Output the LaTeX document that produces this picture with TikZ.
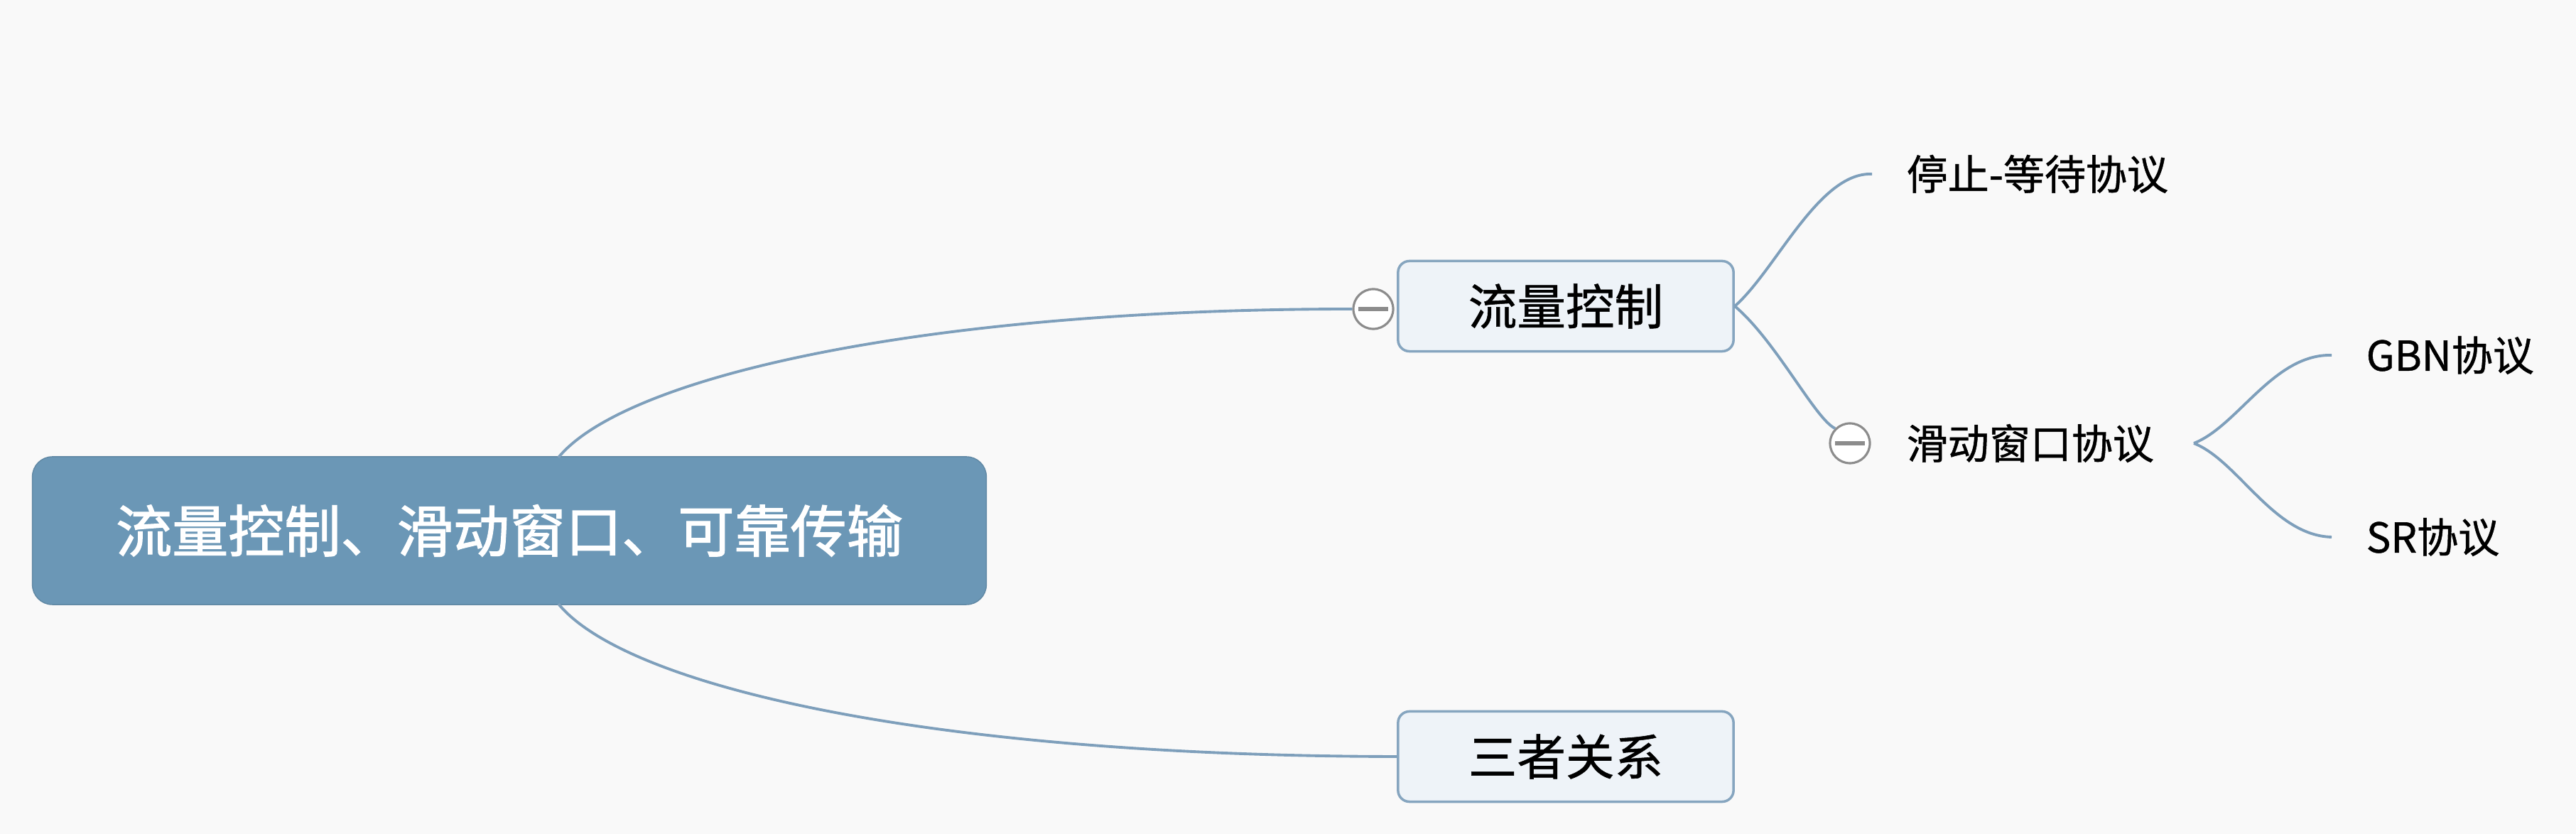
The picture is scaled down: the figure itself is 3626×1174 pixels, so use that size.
\documentclass[tikz,border=0pt]{standalone}
\usepackage{fontspec}
\setmainfont{Noto Sans CJK SC}
\newfontfamily\rootfont[FakeBold=1.6]{Noto Sans CJK SC}
\newfontfamily\leaffont[FakeBold=0.8]{Noto Sans CJK SC}
\usetikzlibrary{calc}
\definecolor{bgc}{HTML}{F9F9F9}
\definecolor{rootfill}{HTML}{6B97B6}
\definecolor{boxfill}{HTML}{EEF3F8}
\definecolor{boxline}{HTML}{86A5BF}
\definecolor{linkc}{HTML}{7E9FBB}
\definecolor{circc}{HTML}{8C8C8C}
\tikzset{
  rootbox/.style={rounded corners=0.28cm, fill=rootfill, draw=rootfill!90!black, line width=0.4pt,
    minimum width=13.42cm, minimum height=2.08cm, text=white, inner sep=0pt,
    font=\rootfont\fontsize{22.5pt}{27pt}\selectfont},
  subbox/.style={rounded corners=0.16cm, fill=boxfill, draw=boxline, line width=1pt,
    minimum width=4.72cm, minimum height=1.27cm, text=black, inner sep=0pt,
    font=\leaffont\fontsize{19.5pt}{23pt}\selectfont},
  leaf/.style={inner ysep=0pt, inner xsep=0.48cm, anchor=west, text=black,
    font=\leaffont\fontsize{16.5pt}{20pt}\selectfont},
  link/.style={draw=linkc, line width=1.1pt},
  collapse/.style={circle, draw=circc, fill=white, line width=0.9pt, minimum size=0.56cm, inner sep=0pt},
  minusbar/.style={draw=circc, line width=1.5pt}
}
\begin{document}
\begin{tikzpicture}[x=0.01cm, y=-0.01cm]
\fill[bgc] (0,0) rectangle (3626,1174);
\useasboundingbox (0,0) rectangle (3626,1174);

\node[rootbox] (root) at (717,747) {流量控制、滑动窗口、可靠传输};
\node[subbox] (flow) at (2204,431) {流量控制};
\node[subbox] (rel) at (2204,1065) {三者关系};
\node[collapse] (c1) at (1933,435) {};
\draw[minusbar] ($(c1.west)+(9,0)$) -- ($(c1.east)+(-9,0)$);

\node[leaf] (stop) at (2635,245) {停止-等待协议};
\node[collapse] (c2) at (2604,624) {};
\draw[minusbar] ($(c2.west)+(9,0)$) -- ($(c2.east)+(-9,0)$);
\node[leaf] (slide) at (2635,624) {滑动窗口协议};
\node[leaf] (gbn) at (3282,500) {GBN协议};
\node[leaf] (sr) at (3282,756) {SR协议};

\coordinate (rt) at (786,644);
\coordinate (rb) at (786,850);
\draw[link] (rt) .. controls (880,530) and (1300,435) .. (c1.west);
\draw[link] (rb) .. controls (880,965) and (1300,1064) .. (rel.west);

\draw[link] (flow.east) .. controls (2500,380) and (2560,242) .. (stop.west);
\draw[link] (flow.east) .. controls (2500,480) and (2555,590) .. (c2.135);

\coordinate (fork) at (3088,624);
\draw[link] (fork) .. controls (3150,600) and (3200,498) .. (gbn.west);
\draw[link] (fork) .. controls (3150,648) and (3200,754) .. (sr.west);
\end{tikzpicture}
\end{document}
